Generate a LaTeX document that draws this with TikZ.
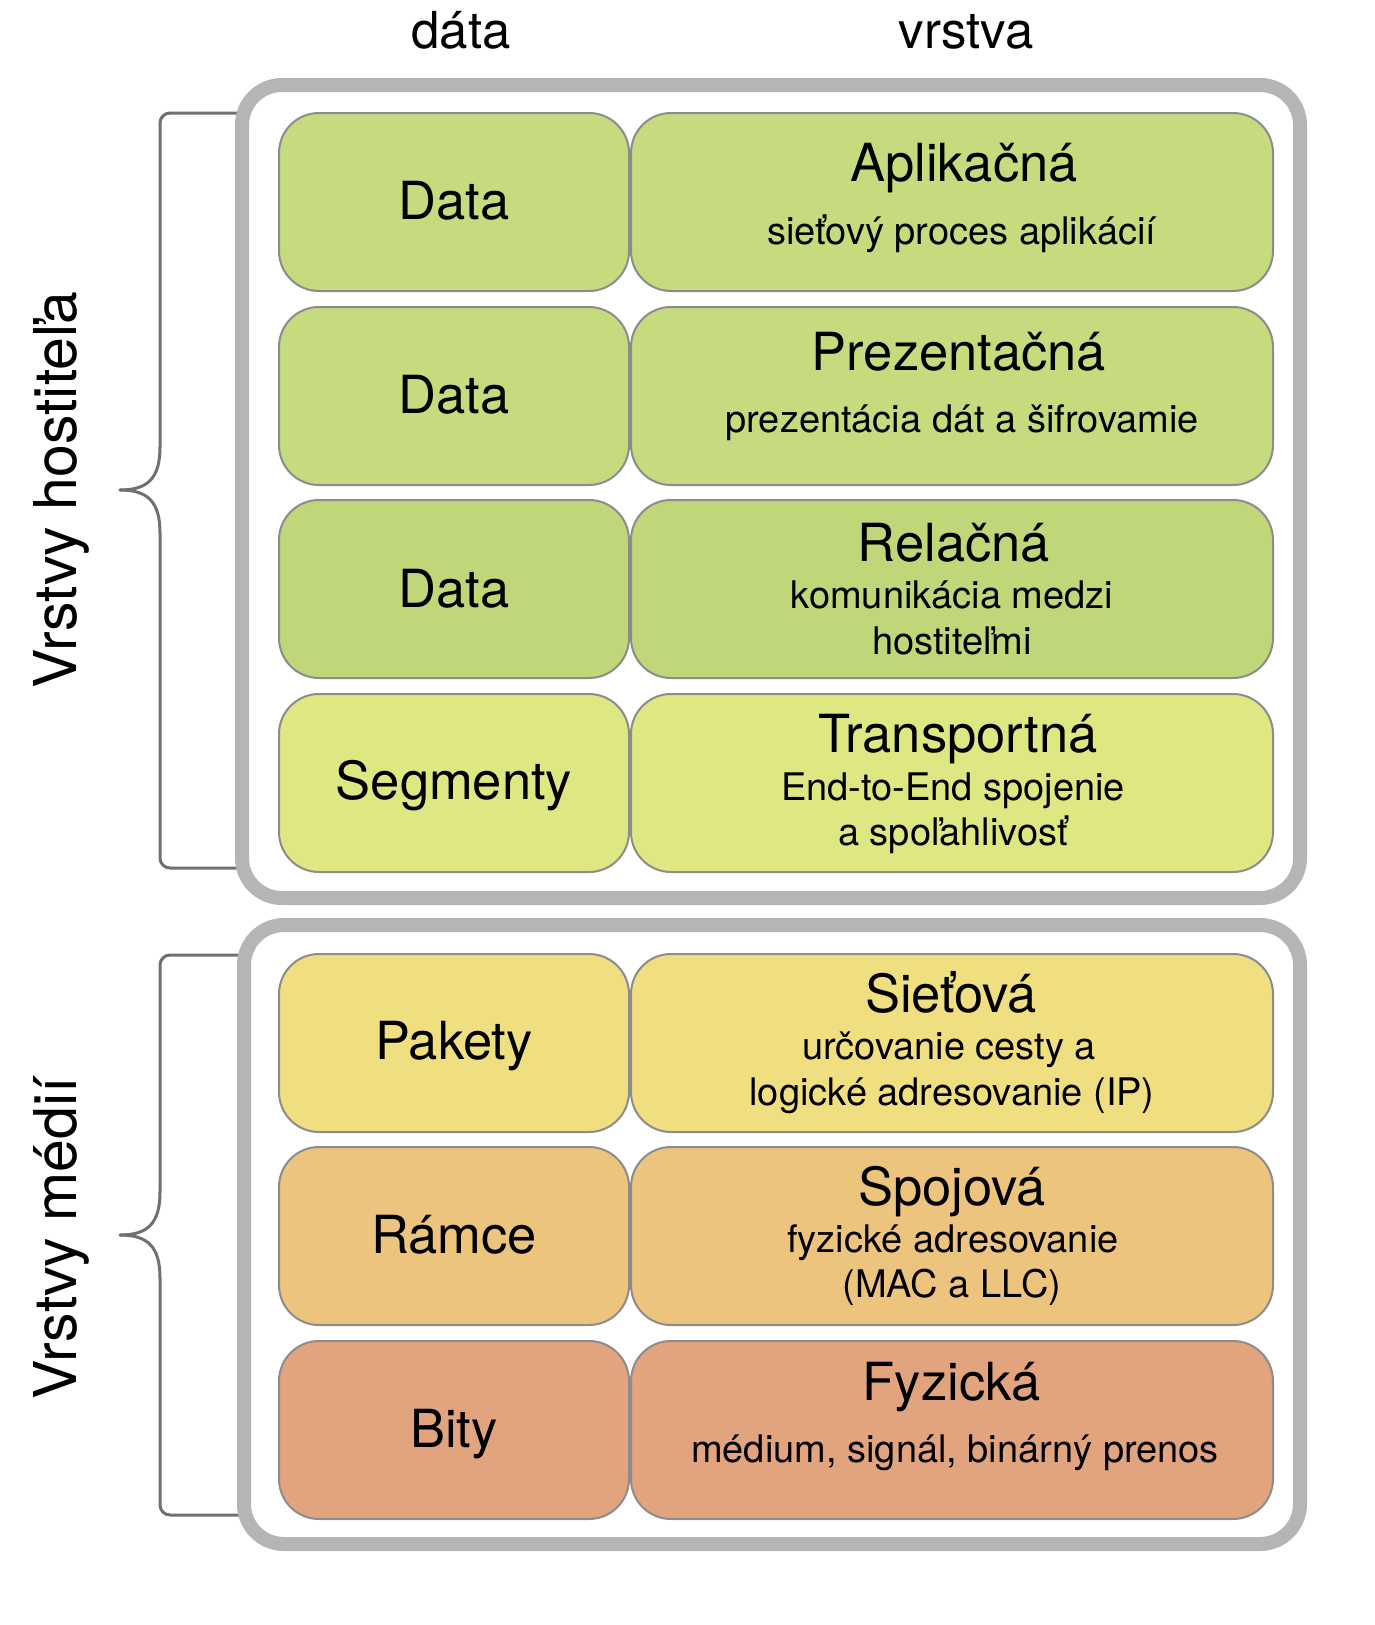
\documentclass[tikz,border=0pt]{standalone}
\usepackage{fontspec}
\setmainfont{TeX Gyre Heros}
\definecolor{grpgray}{HTML}{B5B5B5}
\definecolor{cellline}{HTML}{8C8C8C}
\definecolor{brkgray}{HTML}{707070}
\definecolor{cA}{HTML}{C5DB7E}
\definecolor{cB}{HTML}{BFD679}
\definecolor{cC}{HTML}{DEE782}
\definecolor{cD}{HTML}{EFDF80}
\definecolor{cE}{HTML}{EDC47D}
\definecolor{cF}{HTML}{E1A47E}
\begin{document}
\begin{tikzpicture}[x=1pt,y=-1pt,
  grp/.style={draw=grpgray, line width=14pt, rounded corners=40pt, fill=white},
  cellbox/.style={draw=cellline, line width=2pt, rounded corners=40pt, inner sep=0pt, anchor=north west, minimum height=178pt},
  datacell/.style={cellbox, minimum width=350pt},
  layercell/.style={cellbox, minimum width=642pt},
  ttl/.style={font=\fontsize{52.5}{60}\selectfont, anchor=base, inner sep=0pt},
  hdr/.style={font=\fontsize{51}{60}\selectfont, anchor=base, inner sep=0pt},
  sub/.style={font=\fontsize{38}{44}\selectfont, anchor=base, inner sep=0pt},
  side/.style={font=\fontsize{59}{66}\selectfont, anchor=base, inner sep=0pt, rotate=90},
  brk/.style={draw=brkgray, line width=3pt, line cap=round, line join=round},
]
\useasboundingbox (0,0) rectangle (1374,1625);
\fill[white] (0,0) rectangle (1374,1625);

% headers
\node[hdr] (hdata) at (461,48) {dáta};
\node[hdr] (hlayer) at (966,48) {vrstva};

% brackets
\coordinate (b1t) at (242,113);
\coordinate (b1b) at (242,868);
\coordinate (b1p) at (120,490);
\draw[brk, rounded corners=10pt] (b1t) -- (160,113) -- (160,447);
\draw[brk] (160,447) .. controls (160,478) and (148,490) .. (b1p);
\draw[brk] (b1p) .. controls (148,490) and (160,502) .. (160,533);
\draw[brk, rounded corners=10pt] (160,533) -- (160,868) -- (b1b);

\coordinate (b2t) at (242,955);
\coordinate (b2b) at (242,1515);
\coordinate (b2p) at (120,1235);
\draw[brk, rounded corners=10pt] (b2t) -- (160,955) -- (160,1192);
\draw[brk] (160,1192) .. controls (160,1223) and (148,1235) .. (b2p);
\draw[brk] (b2p) .. controls (148,1235) and (160,1247) .. (160,1278);
\draw[brk, rounded corners=10pt] (160,1278) -- (160,1515) -- (b2b);

\node[side] (lhost) at (76,490) {Vrstvy hostiteľa};
\node[side] (lmed) at (76,1238) {Vrstvy médií};

% group boxes
\draw[grp] (242,85) rectangle (1300,898);
\draw[grp] (244,925) rectangle (1300,1544);

% row 1
\node[datacell, fill=cA] (d1) at (278,112) {};
\node[layercell, fill=cA] (l1) at (630,112) {};
\node[ttl] (d1t) at (454,219) {Data};
\node[ttl] (l1t) at (964,181) {Aplikačná};
\node[sub] (l1s) at (962,244) {sieťový proces aplikácií};

% row 2
\node[datacell, fill=cA] (d2) at (278,306) {};
\node[layercell, fill=cA] (l2) at (630,306) {};
\node[ttl] (d2t) at (454,413) {Data};
\node[ttl] (l2t) at (959,370) {Prezentačná};
\node[sub] (l2s) at (962,432) {prezentácia dát a šifrovamie};

% row 3
\node[datacell, fill=cB] (d3) at (278,499) {};
\node[layercell, fill=cB] (l3) at (630,499) {};
\node[ttl] (d3t) at (454,607) {Data};
\node[ttl] (l3t) at (954,561) {Relačná};
\node[sub] (l3s) at (952,608) {komunikácia medzi};
\node[sub] (l3u) at (952,654) {hostiteľmi};

% row 4
\node[datacell, fill=cC] (d4) at (278,693) {};
\node[layercell, fill=cC] (l4) at (630,693) {};
\node[ttl] (d4t) at (454,799) {Segmenty};
\node[ttl] (l4t) at (958,752) {Transportná};
\node[sub] (l4s) at (953,800) {End-to-End spojenie};
\node[sub] (l4u) at (953,845) {a spoľahlivosť};

% row 5
\node[datacell, fill=cD] (d5) at (278,953) {};
\node[layercell, fill=cD] (l5) at (630,953) {};
\node[ttl] (d5t) at (454,1059) {Pakety};
\node[ttl] (l5t) at (951,1012) {Sieťová};
\node[sub] (l5s) at (949,1059) {určovanie cesty a};
\node[sub] (l5u) at (952,1105) {logické adresovanie (IP)};

% row 6
\node[datacell, fill=cE] (d6) at (278,1146) {};
\node[layercell, fill=cE] (l6) at (630,1146) {};
\node[ttl] (d6t) at (454,1253) {Rámce};
\node[ttl] (l6t) at (952,1205) {Spojová};
\node[sub] (l6s) at (953,1252) {fyzické adresovanie};
\node[sub] (l6u) at (952,1297) {(MAC a LLC)};

% row 7
\node[datacell, fill=cF] (d7) at (278,1340) {};
\node[layercell, fill=cF] (l7) at (630,1340) {};
\node[ttl] (d7t) at (454,1447) {Bity};
\node[ttl] (l7t) at (952,1400) {Fyzická};
\node[sub] (l7s) at (955,1462) {médium, signál, binárný prenos};
\end{tikzpicture}
\end{document}
